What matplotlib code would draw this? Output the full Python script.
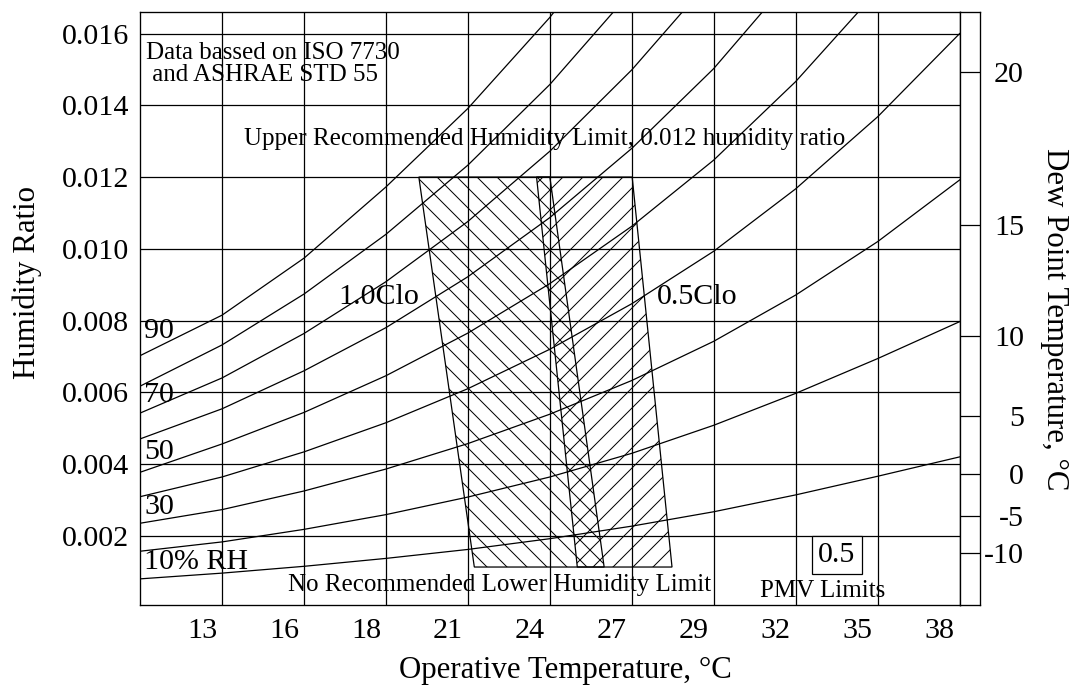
import matplotlib
matplotlib.use("Agg")
import matplotlib.pyplot as plt
from matplotlib.patches import Polygon

plt.rcParams['font.family'] = ['Liberation Serif', 'DejaVu Serif']
plt.rcParams['hatch.linewidth'] = 0.6
plt.rcParams['axes.linewidth'] = 0.8

# Operative temperature (°C) at which the RH curves are tabulated (50-100 °F in 5 °F steps)
temp_grid = [10.00, 12.78, 15.56, 18.33, 21.11, 23.89, 26.67, 29.44, 32.22, 35.00, 37.78]

# Humidity ratio (kg/kg) along each relative-humidity curve
rh10 = [0.00080, 0.00096, 0.00115, 0.00137, 0.00162, 0.00192, 0.00227, 0.00267, 0.00314, 0.00366, 0.00420]
rh20 = [0.00157, 0.00183, 0.00218, 0.00259, 0.00308, 0.00364, 0.00430, 0.00508, 0.00597, 0.00694, 0.00797]
rh30 = [0.00235, 0.00273, 0.00325, 0.00386, 0.00457, 0.00539, 0.00633, 0.00742, 0.00871, 0.01020, 0.01192]
rh40 = [0.00309, 0.00364, 0.00434, 0.00515, 0.00610, 0.00720, 0.00847, 0.00993, 0.01167, 0.01368, 0.01600]
rh50 = [0.00377, 0.00456, 0.00544, 0.00646, 0.00765, 0.00903, 0.01063, 0.01247, 0.01466, 0.01720, 0.02013]
rh60 = [0.00470, 0.00554, 0.00660, 0.00780, 0.00922, 0.01087, 0.01280, 0.01502, 0.01768, 0.02076, 0.02432]
rh70 = [0.00542, 0.00640, 0.00764, 0.00908, 0.01076, 0.01272, 0.01499, 0.01760, 0.02073, 0.02436, 0.02856]
rh80 = [0.00617, 0.00732, 0.00874, 0.01040, 0.01233, 0.01458, 0.01719, 0.02020, 0.02381, 0.02800, 0.03287]
rh90 = [0.00702, 0.00815, 0.00974, 0.01172, 0.01391, 0.01645, 0.01940, 0.02282, 0.02692, 0.03169, 0.03723]
rh_curves = [rh10, rh20, rh30, rh40, rh50, rh60, rh70, rh80, rh90]

# Comfort zones (PMV limits of +/-0.5) for 1.0 clo and 0.5 clo clothing
clo10_temp = [19.45, 23.89, 25.73, 21.33]
clo05_temp = [23.44, 26.68, 28.03, 24.82]
zone_w = [0.012, 0.012, 0.00113, 0.00113]

# Axis ticks
x_tick_pos = [12.10, 14.88, 17.66, 20.43, 23.21, 25.99, 28.77, 31.54, 34.32, 37.10]
x_tick_labels = ['13', '16', '18', '21', '24', '27', '29', '32', '35', '38']
w_ticks = [0.002, 0.004, 0.006, 0.008, 0.010, 0.012, 0.014, 0.016]
dew_labels = ['20', '15', '10', '5', '0', '-5', '-10']
dew_w = [0.01493, 0.01065, 0.00758, 0.00534, 0.00372, 0.00254, 0.00153]

W, H, DPI = 1078, 686, 120
fig = plt.figure(figsize=(W / DPI, H / DPI), dpi=DPI)
fig.patch.set_facecolor('white')

left, right, top, bottom = 140, 959.7, 12, 604.7
ax = fig.add_axes([left / W, 1 - bottom / H, (right - left) / W, (bottom - top) / H])
ax.set_xlim(temp_grid[0], temp_grid[-1])
ax.set_ylim(0.00008, 0.0166)

lw = 0.75
# grid
ax.set_xticks(temp_grid[1:-1], minor=True)
ax.set_xticks(x_tick_pos)
ax.set_xticklabels(x_tick_labels)
ax.set_yticks(w_ticks)
ax.set_yticklabels([f'{v:.3f}' for v in w_ticks])
ax.grid(which='minor', axis='x', color='black', lw=lw)
ax.grid(which='major', axis='y', color='black', lw=lw)
ax.tick_params(axis='both', which='both', length=0, labelsize=18)
ax.tick_params(axis='x', pad=8)
ax.tick_params(axis='y', pad=6.5)
ax.set_axisbelow(True)

# relative humidity curves
for curve in rh_curves:
    ax.plot(temp_grid, curve, color='black', lw=lw)

# comfort zones
zone10 = Polygon(list(zip(clo10_temp, zone_w)), closed=True, fill=False,
                 hatch='\\\\', edgecolor='black', lw=lw)
zone05 = Polygon(list(zip(clo05_temp, zone_w)), closed=True, fill=False,
                 hatch='//', edgecolor='black', lw=lw)
ax.add_patch(zone10)
ax.add_patch(zone05)

# annotations
small = 15
big = 18
ax.text(10.19, 0.01515, 'Data bassed on ISO 7730\n and ASHRAE STD 55',
        fontsize=small, ha='left', va='center', linespacing=1.0)
ax.text(23.70, 0.01305, 'Upper Recommended Humidity Limit, 0.012 humidity ratio',
        fontsize=small, ha='center', va='center')
ax.text(22.17, 0.000635, 'No Recommended Lower Humidity Limit',
        fontsize=small, ha='center', va='center')
ax.text(33.15, 0.000467, 'PMV Limits', fontsize=small, ha='center', va='center')
ax.text(33.62, 0.00146, '0.5', fontsize=big, ha='center', va='center',
        bbox=dict(boxstyle='square,pad=0.2', fc='white', ec='black', lw=lw))
ax.text(18.09, 0.00865, '1.0Clo', fontsize=big, ha='center', va='center')
ax.text(28.89, 0.00865, '0.5Clo', fontsize=big, ha='center', va='center')

rh_label_text = ['90', '70', '50', '30', '10% RH']
rh_label_w = [0.00771, 0.00592, 0.00433, 0.00281, 0.00128]
for txt, yv in zip(rh_label_text, rh_label_w):
    ax.text(10.15, yv, txt, fontsize=big, ha='left', va='center')

ax.set_xlabel('Operative Temperature, °C', fontsize=18.5, va='center')
ax.xaxis.set_label_coords(0.5185, -0.1102)
ax.set_ylabel('Humidity Ratio', fontsize=18.5, va='center')
ax.yaxis.set_label_coords(-0.1372, 0.5436)

# dew point strip
ax2 = fig.add_axes([right / W, 1 - bottom / H, 20 / W, (bottom - top) / H])
ax2.set_ylim(ax.get_ylim())
ax2.set_xticks([])
ax2.set_yticks(dew_w)
ax2.set_yticklabels(dew_labels)
ax2.yaxis.tick_right()
ax2.tick_params(axis='y', length=0, labelsize=18, pad=26.5)
for lab in ax2.get_yticklabels():
    lab.set_horizontalalignment('right')
ax2.grid(axis='y', color='black', lw=lw)
ax2.yaxis.set_label_position('right')
ax2.set_ylabel('Dew Point Temperature, °C', fontsize=18.5, rotation=270)
ax2.yaxis.label.set_verticalalignment('center')
ax2.yaxis.label.set_horizontalalignment('center')
ax2.yaxis.set_label_coords(4.715, 0.482)

fig.savefig('out.png', dpi=DPI, facecolor='white')
